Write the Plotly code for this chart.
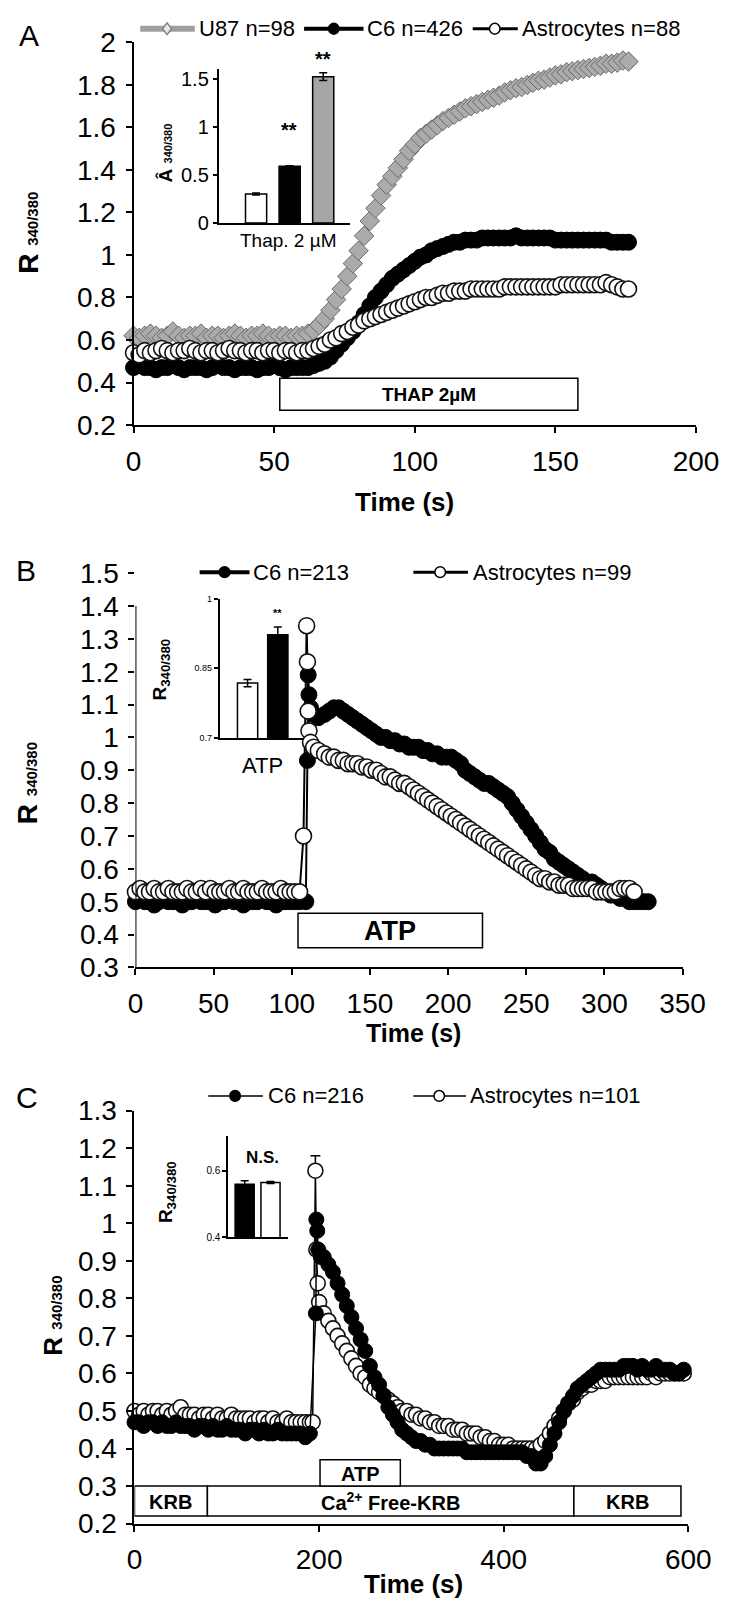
import plotly.graph_objects as go

W, H = 742, 1621
NARROW = "Liberation Sans Narrow, Arial Narrow, Liberation Sans, Arial, sans-serif"
SANS = "Liberation Sans, Arial, sans-serif"


def fx(p):
    return p / W


def fy(p):
    return 1 - p / H


# ---------------- Panel A data ----------------
A_TIME = list(range(0, 177, 2))
A_U87 = [0.62, 0.61, 0.62, 0.63, 0.62, 0.61, 0.62, 0.64, 0.62, 0.61,
         0.62, 0.62, 0.63, 0.61, 0.62, 0.62, 0.61, 0.62, 0.63, 0.62,
         0.61, 0.62, 0.62, 0.63, 0.62, 0.61, 0.62, 0.62, 0.61, 0.62,
         0.62,
         0.63, 0.645, 0.67, 0.70, 0.74, 0.79, 0.84, 0.90, 0.96, 1.02,
         1.09, 1.16, 1.22, 1.28, 1.33, 1.37, 1.41, 1.45, 1.49, 1.52,
         1.55, 1.57, 1.59, 1.61, 1.63, 1.645, 1.66, 1.675, 1.69, 1.70,
         1.71, 1.72, 1.73, 1.74, 1.75, 1.765, 1.775, 1.785, 1.79, 1.80,
         1.81, 1.82, 1.825, 1.835, 1.845, 1.85, 1.86, 1.865, 1.87, 1.875,
         1.88, 1.885, 1.89, 1.90, 1.90, 1.905, 1.915, 1.91]
A_C6 = [0.47, 0.48, 0.47, 0.47, 0.46, 0.47, 0.47, 0.48, 0.47, 0.46,
        0.47, 0.47, 0.47, 0.46, 0.47, 0.48, 0.47, 0.47, 0.46, 0.47,
        0.47, 0.47, 0.46, 0.47, 0.47, 0.48, 0.47, 0.46, 0.47, 0.47,
        0.47, 0.47, 0.48,
        0.49, 0.50, 0.52, 0.55, 0.58, 0.61, 0.64, 0.68, 0.72, 0.76,
        0.80, 0.83, 0.86, 0.89, 0.91, 0.93, 0.95, 0.97, 0.99, 1.00,
        1.02, 1.03, 1.04, 1.05, 1.06, 1.06, 1.07, 1.07,
        1.07, 1.08, 1.08, 1.08, 1.08, 1.08, 1.08, 1.09, 1.08, 1.08,
        1.08, 1.08, 1.08, 1.08, 1.07, 1.07, 1.07, 1.07, 1.07, 1.07,
        1.07, 1.07, 1.07, 1.07, 1.06, 1.06, 1.06, 1.06]
A_ASTRO = [0.54, 0.53, 0.55, 0.54, 0.55, 0.56, 0.55, 0.54, 0.55, 0.55,
           0.56, 0.55, 0.54, 0.55, 0.55, 0.54, 0.55, 0.56, 0.55, 0.55,
           0.54, 0.55, 0.55, 0.54, 0.55, 0.55, 0.54, 0.55, 0.55, 0.54,
           0.55,
           0.55, 0.56, 0.57, 0.58, 0.60, 0.61, 0.63, 0.64, 0.66, 0.67,
           0.69, 0.70, 0.71, 0.72, 0.73, 0.74, 0.75, 0.76, 0.77, 0.78,
           0.79, 0.80, 0.80, 0.81, 0.82, 0.82, 0.83, 0.83, 0.83, 0.84,
           0.84, 0.84, 0.84, 0.84, 0.84, 0.85, 0.85, 0.85, 0.85, 0.85,
           0.85, 0.85, 0.85, 0.85, 0.85, 0.86, 0.86, 0.86, 0.86, 0.86,
           0.86, 0.86, 0.86, 0.87, 0.86, 0.85, 0.84, 0.84]
A_XTICKS = [0, 50, 100, 150, 200]
A_YTICKS = [0.2, 0.4, 0.6, 0.8, 1.0, 1.2, 1.4, 1.6, 1.8, 2.0]
A_YTEXT = ["0.2", "0.4", "0.6", "0.8", "1", "1.2", "1.4", "1.6", "1.8", "2"]
A_TREAT = ["THAP 2µM", 52, 158]
A_BAR_LABELS = ["Astrocytes", "C6", "U87"]
A_BAR_VALUES = [0.30, 0.59, 1.52]
A_BAR_ERR = [0.01, 0.005, 0.04]
A_LEGEND = ["U87 n=98", "C6 n=426", "Astrocytes n=88"]

# ---------------- Panel B data ----------------
B_BASE_T = list(range(0, 106, 3))
B_C6_TIME = B_BASE_T + [109, 110, 110.5, 111, 112, 114, 117] + list(range(121, 329, 3))
B_C6 = [0.50, 0.51, 0.50, 0.50, 0.49, 0.50, 0.51, 0.50, 0.50, 0.50,
        0.49, 0.50, 0.50, 0.51, 0.50, 0.50, 0.50, 0.49, 0.50, 0.50,
        0.51, 0.50, 0.50, 0.49, 0.50, 0.50, 0.50, 0.51, 0.50, 0.50,
        0.49, 0.50, 0.50, 0.50, 0.50, 0.50,
        0.50, 0.93, 1.19, 1.13, 1.09, 1.07, 1.06,
        1.07, 1.08, 1.09, 1.09, 1.08, 1.07, 1.06, 1.05, 1.04, 1.03,
        1.02, 1.01, 1.00, 1.00, 0.99, 0.99, 0.98, 0.98, 0.97, 0.97,
        0.97, 0.96, 0.96, 0.95, 0.95, 0.94, 0.94,
        0.94, 0.93, 0.92, 0.90, 0.89, 0.88, 0.87, 0.86, 0.86,
        0.85, 0.84, 0.83, 0.82, 0.80, 0.78, 0.76, 0.74, 0.72, 0.70,
        0.68, 0.66, 0.65, 0.63, 0.62, 0.61, 0.60, 0.59, 0.58, 0.57,
        0.56, 0.56, 0.55, 0.54, 0.53, 0.52, 0.52, 0.51, 0.51, 0.50,
        0.50, 0.50, 0.50, 0.50]
B_ASTRO_TIME = B_BASE_T + [107.5, 109.5, 110, 110.5, 111, 112, 114, 117] + list(range(121, 320, 3))
B_ASTRO = [0.53, 0.54, 0.53, 0.53, 0.54, 0.53, 0.53, 0.54, 0.53, 0.53,
           0.53, 0.54, 0.53, 0.53, 0.54, 0.53, 0.54, 0.53, 0.53, 0.53,
           0.54, 0.53, 0.53, 0.54, 0.53, 0.53, 0.53, 0.54, 0.53, 0.53,
           0.53, 0.54, 0.53, 0.53, 0.53, 0.53,
           0.70, 1.34, 1.23, 1.08, 1.02, 0.985, 0.97, 0.96,
           0.95, 0.94, 0.94, 0.93, 0.93, 0.92, 0.92, 0.92, 0.91, 0.91,
           0.90, 0.90, 0.89, 0.88, 0.88, 0.87, 0.86, 0.86, 0.85, 0.84,
           0.83, 0.82, 0.81, 0.80, 0.79, 0.78, 0.77, 0.76, 0.75, 0.74,
           0.73, 0.72, 0.71, 0.70, 0.69, 0.68, 0.67, 0.66, 0.65, 0.64,
           0.63, 0.62, 0.61, 0.60, 0.59, 0.58, 0.57, 0.57, 0.56, 0.56,
           0.55, 0.55, 0.55, 0.54, 0.54, 0.54, 0.54, 0.54, 0.53, 0.53,
           0.53, 0.53, 0.53, 0.54, 0.54, 0.54, 0.53]
B_XTICKS = [0, 50, 100, 150, 200, 250, 300, 350]
B_YTICKS = [0.3, 0.4, 0.5, 0.6, 0.7, 0.8, 0.9, 1.0, 1.1, 1.2, 1.3, 1.4, 1.5]
B_YTEXT = ["0.3", "0.4", "0.5", "0.6", "0.7", "0.8", "0.9", "1", "1.1", "1.2", "1.3", "1.4", "1.5"]
B_TREAT = ["ATP", 104, 222]
B_BAR_LABELS = ["Astrocytes", "C6"]
B_BAR_VALUES = [0.818, 0.922]
B_BAR_ERR = [0.008, 0.017]
B_LEGEND = ["C6 n=213", "Astrocytes n=99"]

# ---------------- Panel C data ----------------
C_BASE_T = list(range(0, 191, 5))
C_C6_TIME = C_BASE_T + [196.5, 197, 198, 199, 202] + list(range(205, 596, 5))
C_C6 = [0.47, 0.47, 0.46, 0.47, 0.47, 0.46, 0.47, 0.46, 0.46, 0.47,
        0.46, 0.46, 0.46, 0.45, 0.46, 0.46, 0.45, 0.46, 0.45, 0.45,
        0.46, 0.45, 0.45, 0.45, 0.44, 0.45, 0.45, 0.44, 0.45, 0.44,
        0.44, 0.45, 0.44, 0.44, 0.44, 0.44, 0.44, 0.43, 0.44,
        0.76, 1.01, 0.98, 0.93, 0.91,
        0.91, 0.89, 0.87, 0.84, 0.81, 0.78, 0.75, 0.72, 0.69, 0.66,
        0.62, 0.59, 0.57, 0.54, 0.51, 0.49, 0.47, 0.45, 0.44, 0.43,
        0.42, 0.42, 0.41, 0.41, 0.40, 0.40, 0.40, 0.40, 0.40, 0.40,
        0.40, 0.39, 0.39, 0.39, 0.39, 0.39, 0.39, 0.39, 0.39, 0.39,
        0.39, 0.39, 0.39, 0.39, 0.38, 0.38, 0.36, 0.36, 0.38, 0.41,
        0.44, 0.47, 0.50, 0.52, 0.54, 0.56, 0.57, 0.58, 0.59, 0.60,
        0.61, 0.61, 0.61, 0.61, 0.61, 0.62, 0.62, 0.62, 0.61, 0.62,
        0.61, 0.61, 0.62, 0.61, 0.61, 0.61, 0.60, 0.60, 0.61]
C_ASTRO_TIME = C_BASE_T + [193, 196, 197, 198.5] + list(range(200, 596, 5))
C_ASTRO = [0.50, 0.49, 0.50, 0.49, 0.50, 0.50, 0.49, 0.50, 0.49, 0.50,
           0.51, 0.49, 0.49, 0.49, 0.48, 0.49, 0.49, 0.48, 0.49, 0.48,
           0.48, 0.49, 0.48, 0.48, 0.48, 0.48, 0.47, 0.48, 0.48, 0.47,
           0.48, 0.47, 0.47, 0.48, 0.47, 0.47, 0.47, 0.47, 0.47,
           0.47, 1.14, 0.93, 0.84,
           0.79, 0.76, 0.74, 0.72, 0.70, 0.68, 0.66, 0.64, 0.62, 0.60,
           0.59, 0.57, 0.56, 0.55, 0.54, 0.53, 0.52, 0.51, 0.50, 0.50,
           0.49, 0.49, 0.48, 0.48, 0.47, 0.47, 0.46, 0.46, 0.46, 0.45,
           0.45, 0.45, 0.44, 0.44, 0.44, 0.43, 0.43, 0.42, 0.42, 0.41,
           0.41, 0.41, 0.40, 0.40, 0.40, 0.40, 0.40, 0.40, 0.41, 0.42,
           0.44, 0.46, 0.48, 0.50, 0.52, 0.53, 0.55, 0.56, 0.57, 0.57,
           0.58, 0.58, 0.58, 0.59, 0.59, 0.59, 0.59, 0.59, 0.59, 0.59,
           0.59, 0.59, 0.60, 0.59, 0.60, 0.60, 0.60, 0.60, 0.60, 0.60]
C_PEAK_SEM = 0.04
C_XTICKS = [0, 200, 400, 600]
C_YTICKS = [0.2, 0.3, 0.4, 0.5, 0.6, 0.7, 0.8, 0.9, 1.0, 1.1, 1.2, 1.3]
C_YTEXT = ["0.2", "0.3", "0.4", "0.5", "0.6", "0.7", "0.8", "0.9", "1", "1.1", "1.2", "1.3"]
C_MEDIA = [["KRB", 0, 79], ["Ca<sup>2+</sup> Free-KRB", 79, 476], ["KRB", 476, 592]]
C_TREAT = ["ATP", 201, 288]
C_BAR_LABELS = ["C6", "Astrocytes"]
C_BAR_VALUES = [0.56, 0.565]
C_BAR_ERR = [0.01, 0.003]
C_LEGEND = ["C6 n=216", "Astrocytes n=101"]

# ---------------- styles ----------------
BLACK_MK = dict(symbol="circle", size=16, color="black", line=dict(color="black", width=1))
WHITE_MK = dict(symbol="circle", size=16, color="white", line=dict(color="#111111", width=1.6))
GRAY_MK = dict(symbol="diamond", size=15, color="#ABABAB", line=dict(color="#6A6A6A", width=1))

fig = go.Figure()


def series(x, y, ax, mk, lc="black", lw=2):
    fig.add_trace(go.Scatter(x=x, y=y, mode="lines+markers", xaxis=ax[0], yaxis=ax[1],
                             line=dict(color=lc, width=lw), marker=mk, cliponaxis=False,
                             showlegend=False, hoverinfo="skip"))


series(A_TIME, A_U87, ("x", "y"), GRAY_MK, lc="#9A9A9A")
series(A_TIME, A_C6, ("x", "y"), BLACK_MK)
series(A_TIME, A_ASTRO, ("x", "y"), WHITE_MK)

series(B_C6_TIME, B_C6, ("x3", "y3"), BLACK_MK)
series(B_ASTRO_TIME, B_ASTRO, ("x3", "y3"), WHITE_MK)

# error cap on the astrocyte peak in C
ipk = C_ASTRO.index(max(C_ASTRO))
fig.add_trace(go.Scatter(x=[C_ASTRO_TIME[ipk]], y=[C_ASTRO[ipk]], mode="markers", xaxis="x5", yaxis="y5",
                         marker=dict(size=1, color="rgba(0,0,0,0)"),
                         error_y=dict(type="data", symmetric=False, array=[C_PEAK_SEM], arrayminus=[0],
                                      color="black", thickness=1.5, width=5),
                         showlegend=False, hoverinfo="skip", cliponaxis=False))
series(C_ASTRO_TIME, C_ASTRO, ("x5", "y5"), dict(WHITE_MK, size=15), lw=1.5)
series(C_C6_TIME, C_C6, ("x5", "y5"), dict(BLACK_MK, size=15), lw=1.5)


def bars(labels, values, errs, colors, ax, width):
    fig.add_trace(go.Bar(x=labels, y=values, xaxis=ax[0], yaxis=ax[1], width=width,
                         marker=dict(color=colors, line=dict(color="black", width=1.5)),
                         error_y=dict(type="data", array=errs, color="black", thickness=1.5, width=4),
                         showlegend=False, hoverinfo="skip"))


bars(A_BAR_LABELS, A_BAR_VALUES, A_BAR_ERR, ["white", "black", "#A6A6A6"], ("x2", "y2"), 0.63)
bars(B_BAR_LABELS, B_BAR_VALUES, B_BAR_ERR, ["white", "black"], ("x4", "y4"), 0.67)
bars(C_BAR_LABELS, C_BAR_VALUES, C_BAR_ERR, ["black", "white"], ("x6", "y6"), 0.74)

# ---------------- axes ----------------
MAIN = dict(ticks="outside", ticklen=6, tickwidth=2, tickcolor="black", showline=True,
            linewidth=2, linecolor="black", showgrid=False, zeroline=False,
            tickfont=dict(family=NARROW, size=28, color="black"), ticklabelstandoff=4)
INSET_X = dict(type="category", showticklabels=False, ticks="", showline=True, linewidth=2,
               linecolor="black", showgrid=False, zeroline=False)
INSET_Y = dict(ticks="outside", ticklen=4, tickwidth=1.5, tickcolor="black", showline=True,
               linewidth=2, linecolor="black", showgrid=False, zeroline=False)

layout_axes = dict(
    xaxis=dict(MAIN, domain=[fx(131), fx(718)], range=[0, 200], anchor="y", tickvals=A_XTICKS),
    yaxis=dict(MAIN, domain=[fy(418), fy(28)], range=[0.2, 2.0], anchor="x", tickvals=A_YTICKS,
               ticktext=A_YTEXT),
    xaxis2=dict(INSET_X, domain=[fx(220), fx(357)], range=[-1.11, 2.8], anchor="y2"),
    yaxis2=dict(INSET_Y, domain=[fy(212), fy(55)], range=[0, 1.6], anchor="x2",
                tickvals=[0, 0.5, 1, 1.5], ticktext=["0", "0.5", "1", "1.5"],
                tickfont=dict(family=NARROW, size=20, color="black")),
    xaxis3=dict(MAIN, domain=[fx(133), fx(704)], range=[0, 350], anchor="y3", tickvals=B_XTICKS),
    yaxis3=dict(MAIN, domain=[fy(971), fy(569)], range=[0.3, 1.5], anchor="x3", tickvals=B_YTICKS,
                ticktext=B_YTEXT, showline=False),
    xaxis4=dict(INSET_X, domain=[fx(221), fx(309)], range=[-0.92, 1.87], anchor="y4"),
    yaxis4=dict(INSET_Y, domain=[fy(737), fy(595)], range=[0.7, 1.0], anchor="x4",
                tickvals=[0.7, 0.85, 1.0], ticktext=["0.7", "0.85", "1"],
                tickfont=dict(family=NARROW, size=9, color="black")),
    xaxis5=dict(MAIN, domain=[fx(132), fx(710)], range=[0, 600], anchor="y5", tickvals=C_XTICKS),
    yaxis5=dict(MAIN, domain=[fy(1538), fy(1117)], range=[0.2, 1.3], anchor="x5", tickvals=C_YTICKS,
                ticktext=C_YTEXT),
    xaxis6=dict(INSET_X, domain=[fx(230), fx(292)], range=[-0.63, 1.67], anchor="y6"),
    yaxis6=dict(INSET_Y, domain=[fy(1246), fy(1143)], range=[0.4, 0.705], anchor="x6",
                tickvals=[0.4, 0.6], ticktext=["0.4", "0.6"],
                tickfont=dict(family=NARROW, size=10, color="black")),
)

shapes = []
annotations = []


def box(xr, yr, x0, x1, y0, y1):
    shapes.append(dict(type="rect", xref=xr, yref=yr, x0=x0, x1=x1, y0=y0, y1=y1,
                       line=dict(color="black", width=1.5), fillcolor="white", layer="above"))


def text(t, x, y, size, family=SANS, xref="paper", yref="paper", angle=0, xanchor="center",
         yanchor="middle", color="black"):
    annotations.append(dict(text=t, x=x, y=y, xref=xref, yref=yref, showarrow=False,
                            font=dict(family=family, size=size, color=color), textangle=angle,
                            xanchor=xanchor, yanchor=yanchor))


# treatment boxes
box("x", "y", A_TREAT[1], A_TREAT[2], 0.27, 0.42)
text("<b>" + A_TREAT[0] + "</b>", (A_TREAT[1] + A_TREAT[2]) / 2, 0.345, 19, xref="x", yref="y")
box("x3", "y3", B_TREAT[1], B_TREAT[2], 0.36, 0.465)
text("<b>" + B_TREAT[0] + "</b>", (B_TREAT[1] + B_TREAT[2]) / 2, 0.412, 27, xref="x3", yref="y3")
for name, a, b in C_MEDIA:
    box("x5", "y5", a, b, 0.22, 0.30)
    text("<b>" + name + "</b>", (a + b) / 2, 0.258, 20, xref="x5", yref="y5")
box("x5", "y5", C_TREAT[1], C_TREAT[2], 0.30, 0.37)
text("<b>" + C_TREAT[0] + "</b>", (C_TREAT[1] + C_TREAT[2]) / 2, 0.333, 20, xref="x5", yref="y5")

# B y-axis line only up to 1.4
shapes.append(dict(type="line", xref="x3", yref="y3", x0=0, x1=0, y0=0.3, y1=1.4,
                   line=dict(color="black", width=2)))

# panel letters
text("A", fx(22), fy(21), 30)
text("B", fx(19), fy(566), 30)
text("C", fx(20), fy(1104), 30)

# main y titles
RT = "<b>R</b> <b><span style='font-size:15px'>340/380</span></b>"
text(RT, fx(22), fy(222), 28, angle=-90)
text(RT, fx(20), fy(783), 28, angle=-90)
text(RT, fx(47), fy(1326), 26, angle=-90)

# time titles
text("<b>Time (s)</b>", fx(414), fy(497), 26)
text("<b>Time (s)</b>", fx(423), fy(1038), 25)
text("<b>Time (s)</b>", fx(423), fy(1600), 26)

# inset titles and labels
text("<b>Â</b> <b><span style='font-size:11px'>340/380</span></b>", fx(164), fy(141), 19, angle=-90)
text("Thap. 2 µM", fx(292), fy(230), 19, family=NARROW)
text("<b>**</b>", fx(293), fy(117), 20)
text("<b>**</b>", fx(329), fy(45), 20)
text("<b>R<sub>340/380</sub></b>", fx(160), fy(667), 19, angle=-90)
text("ATP", fx(266), fy(765), 22, family=NARROW)
text("<b>**</b>", fx(281), fy(610), 11)
text("<b>R<sub>340/380</sub></b>", fx(166), fy(1200), 19, angle=-90)
text("<b>N.S.</b>", fx(266), fy(1165), 17, family=NARROW)


# legends
def leg_line(x0, x1, y, color, width):
    shapes.append(dict(type="line", xref="paper", yref="paper", x0=fx(x0), x1=fx(x1),
                       y0=fy(y), y1=fy(y), line=dict(color=color, width=width)))


def leg_circle(cx, cy, r, fill, edge="black"):
    shapes.append(dict(type="circle", xref="paper", yref="paper", x0=fx(cx - r), x1=fx(cx + r),
                       y0=fy(cy + r), y1=fy(cy - r), fillcolor=fill, line=dict(color=edge, width=1.5)))


def leg_diamond(cx, cy, r, fill, edge):
    pts = [(cx, cy - r), (cx + r * 0.8, cy), (cx, cy + r), (cx - r * 0.8, cy)]
    path = "M " + " L ".join(f"{fx(a):.5f},{fy(b):.5f}" for a, b in pts) + " Z"
    shapes.append(dict(type="path", xref="paper", yref="paper", path=path, fillcolor=fill,
                       line=dict(color=edge, width=1.5)))


LEG_FONT = 22
# A legend
leg_line(138, 195, 14, "#A0A0A0", 6)
leg_diamond(166, 14, 6, "#E8E8E8", "#808080")
text(A_LEGEND[0], fx(197), fy(14), LEG_FONT, family=NARROW, xanchor="left")
leg_line(309, 371, 14, "black", 4)
leg_circle(340, 14, 5.5, "black")
text(A_LEGEND[1], fx(373), fy(14), LEG_FONT, family=NARROW, xanchor="left")
leg_line(485, 532, 14, "black", 3)
leg_circle(508, 14, 5.5, "white")
text(A_LEGEND[2], fx(534), fy(14), LEG_FONT, family=NARROW, xanchor="left")
# B legend
leg_line(200, 252, 568, "black", 4)
leg_circle(226, 568, 5.5, "black")
text(B_LEGEND[0], fx(254), fy(568), LEG_FONT, family=NARROW, xanchor="left")
leg_line(423, 480, 568, "black", 3)
leg_circle(451, 568, 5.5, "white")
text(B_LEGEND[1], fx(483), fy(568), LEG_FONT, family=NARROW, xanchor="left")
# C legend
leg_line(209, 266, 1102, "black", 1.5)
leg_circle(237, 1102, 5.5, "black")
text(C_LEGEND[0], fx(269), fy(1102), LEG_FONT, family=NARROW, xanchor="left")
leg_line(423, 478, 1102, "black", 1.5)
leg_circle(450, 1102, 5.5, "white")
text(C_LEGEND[1], fx(480), fy(1102), LEG_FONT, family=NARROW, xanchor="left")

fig.update_layout(
    width=W, height=H, margin=dict(l=0, r=0, t=0, b=0),
    paper_bgcolor="white", plot_bgcolor="rgba(0,0,0,0)", showlegend=False,
    font=dict(family=SANS, color="black"),
    shapes=shapes, annotations=annotations, barmode="group", **layout_axes,
)

fig.write_html("out.html", config={"displayModeBar": False},
               post_script="document.body.style.margin='0px';")
